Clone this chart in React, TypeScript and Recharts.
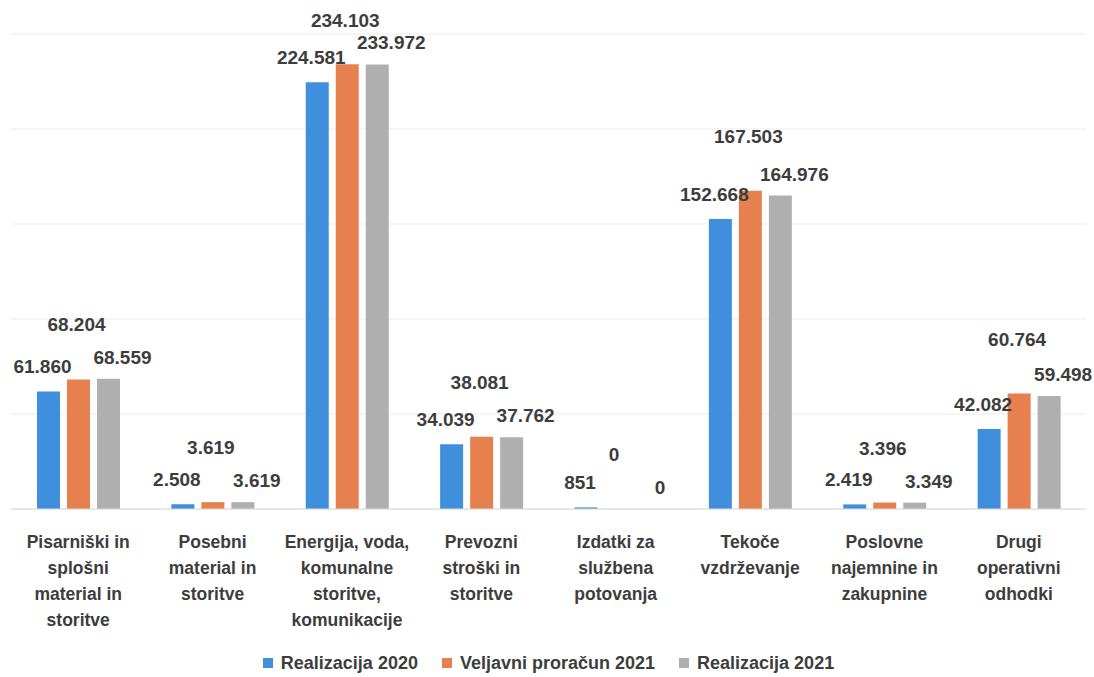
import { Bar, BarChart, CartesianGrid, LabelList, Legend, XAxis, YAxis } from "recharts";

const categories = [
  "Pisarniški in\nsplošni\nmaterial in\nstoritve",
  "Posebni\nmaterial in\nstoritve",
  "Energija, voda,\nkomunalne\nstoritve,\nkomunikacije",
  "Prevozni\nstroški in\nstoritve",
  "Izdatki za\nslužbena\npotovanja",
  "Tekoče\nvzdrževanje",
  "Poslovne\nnajemnine in\nzakupnine",
  "Drugi\noperativni\nodhodki"
];

const realizacija2020 = [61860, 2508, 224581, 34039, 851, 152668, 2419, 42082];
const veljavni2021 = [68204, 3619, 234103, 38081, 0, 167503, 3396, 60764];
const realizacija2021 = [68559, 3619, 233972, 37762, 0, 164976, 3349, 59498];

const seriesNames = ["Realizacija 2020", "Veljavni proračun 2021", "Realizacija 2021"];
const yTicks = [0, 50000, 100000, 150000, 200000, 250000];

const COLORS = ["#3f8fdd", "#e6804f", "#afafaf"];
const FONT = "'Liberation Sans', Arial, sans-serif";
const TEXT = "#3d3d3d";

const data = categories.map((name, i) => ({
  name,
  r2020: realizacija2020[i],
  vp2021: veljavni2021[i],
  r2021: realizacija2021[i]
}));

function fmt(v: number) {
  return String(v).replace(/\B(?=(\d{3})+(?!\d))/g, ".");
}

function ValueLabel(props: any) {
  const { x, y, width, value, dx, dy, minY } = props;
  const cx = Number(x) + Number(width) / 2 + dx;
  const cy = Math.max(Number(y) + dy, minY ?? 20);
  return (
    <text x={cx} y={cy + 7} textAnchor="middle" fill={TEXT} fontFamily={FONT} fontWeight={700} fontSize={19}>
      {fmt(Math.round(Number(value)))}
    </text>
  );
}

function CategoryTick(props: any) {
  const { x, y, payload } = props;
  const lines = String(payload.value).split("\n");
  return (
    <g>
      {lines.map((line, i) => (
        <text
          key={i}
          x={x}
          y={y + 31 + i * 26}
          textAnchor="middle"
          fill={TEXT}
          fontFamily={FONT}
          fontWeight={700}
          fontSize={17.5}
        >
          {line}
        </text>
      ))}
    </g>
  );
}

function ChartLegend() {
  return (
    <div style={{ height: 28, display: "flex", justifyContent: "center", alignItems: "center", gap: 24 }}>
      {seriesNames.map((name, i) => (
        <div key={name} style={{ display: "flex", alignItems: "center", gap: 8 }}>
          <span style={{ width: 10, height: 10, background: COLORS[i], display: "inline-block" }} />
          <span style={{ fontFamily: FONT, fontWeight: 700, fontSize: 18, color: TEXT }}>{name}</span>
        </div>
      ))}
    </div>
  );
}

export default function App() {
  return (
    <div style={{ position: "fixed", left: 0, top: 0, width: 1094, height: 677, background: "#fff" }}>
      <BarChart
        width={1094}
        height={677}
        data={data}
        margin={{ top: 34, right: 8, bottom: 0, left: 11 }}
        barSize={23}
        barGap={7}
      >
        <CartesianGrid stroke="#ebebeb" vertical={false} />
        <XAxis
          dataKey="name"
          interval={0}
          tickLine={false}
          axisLine={{ stroke: "#dadada" }}
          height={140}
          tick={<CategoryTick />}
        />
        <YAxis hide domain={[0, 250000]} ticks={yTicks} />
        <Legend verticalAlign="bottom" height={28} content={<ChartLegend />} />
        <Bar dataKey="r2020" name={seriesNames[0]} fill={COLORS[0]} minPointSize={0.01} isAnimationActive={false}>
          <LabelList dataKey="r2020" content={(p: any) => <ValueLabel {...p} dx={-6} dy={-25} />} />
        </Bar>
        <Bar dataKey="vp2021" name={seriesNames[1]} fill={COLORS[1]} minPointSize={0.01} isAnimationActive={false}>
          <LabelList dataKey="vp2021" content={(p: any) => <ValueLabel {...p} dx={-2} dy={-55} minY={20} />} />
        </Bar>
        <Bar dataKey="r2021" name={seriesNames[2]} fill={COLORS[2]} minPointSize={0.01} isAnimationActive={false}>
          <LabelList dataKey="r2021" content={(p: any) => <ValueLabel {...p} dx={14} dy={-22} minY={20} />} />
        </Bar>
      </BarChart>
    </div>
  );
}
